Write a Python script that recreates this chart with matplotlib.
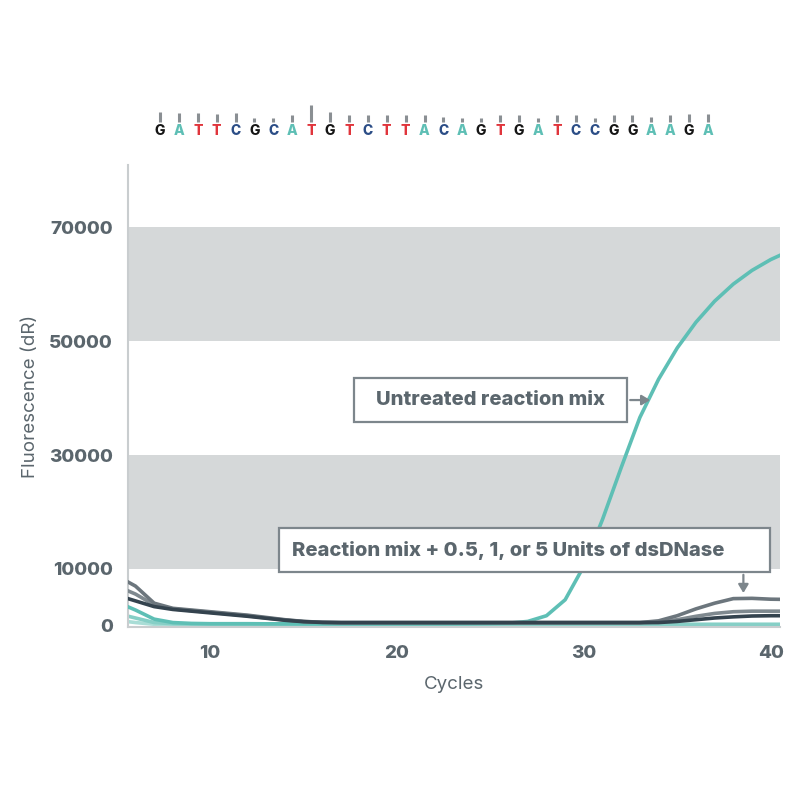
import matplotlib
matplotlib.use("Agg")
import matplotlib.pyplot as plt
from matplotlib.patches import Rectangle

plt.rcParams["font.family"] = ["Inter", "DejaVu Sans"]

# qPCR amplification, one value per cycle
cycles = list(range(5, 42))

untreated = [4200, 2800, 1200, 600, 450, 400, 400, 400, 380, 380, 370, 370, 370,
             370, 370, 380, 380, 390, 400, 420, 450, 500, 800, 1800, 4600, 10500,
             18700, 27800, 36600, 43300, 48800, 53300, 57000, 60000, 62400, 64300, 65800]
ntc_a = [2200, 1400, 600, 400, 350, 330, 320, 310, 300, 300, 300, 300, 300, 300,
         300, 300, 300, 300, 300, 300, 300, 300, 300, 300, 300, 300, 300, 300,
         300, 300, 300, 300, 300, 300, 300, 300, 300]
ntc_b = [1000, 600, 300, 220, 200, 200, 200, 200, 200, 200, 200, 200, 200, 200,
         200, 200, 200, 200, 200, 200, 200, 200, 200, 200, 200, 200, 200, 200,
         200, 200, 200, 200, 200, 200, 200, 200, 200]
dnase_05 = [8800, 7000, 4000, 3100, 2800, 2500, 2200, 1900, 1500, 1100, 800, 650,
            600, 600, 600, 600, 600, 600, 600, 600, 600, 600, 600, 600, 600, 600,
            600, 600, 600, 900, 1800, 3000, 4000, 4800, 4850, 4700, 4650]
dnase_1 = [7000, 5600, 3700, 3000, 2700, 2400, 2100, 1800, 1400, 1050, 780, 640,
           600, 600, 600, 600, 600, 600, 600, 600, 600, 600, 600, 600, 600, 600,
           600, 600, 600, 700, 1100, 1700, 2200, 2500, 2600, 2600, 2600]
dnase_5 = [5400, 4400, 3400, 2900, 2600, 2300, 2000, 1700, 1350, 1000, 750, 620,
           580, 580, 580, 580, 580, 580, 580, 580, 580, 580, 580, 580, 580, 580,
           580, 580, 580, 600, 800, 1100, 1400, 1600, 1750, 1800, 1800]

ytick_vals = [0, 10000, 30000, 50000, 70000]
bands = [(10000, 30000), (50000, 70000)]

sequence = "GATTCGCATGTCTTACAGTGATCCGGAAGA"
peak_heights = [10, 9.5, 9.5, 8.5, 9.5, 3.8, 3.8, 7.5, 17, 10, 7.5, 7.5, 6.8, 6.8,
                7.5, 5, 3.8, 4.5, 7.5, 7.5, 3.8, 7.5, 7.5, 3.8, 7.5, 7.5, 5, 7.5, 8.5, 8.5]
base_colors = {"G": "#151515", "A": "#5ebfb5", "T": "#e0353c", "C": "#2b4d86"}

TEXT = "#5b666d"
BOX = "#7d868c"
HEAVY = 800

fig = plt.figure(figsize=(8, 8), dpi=100)
ax = fig.add_axes([0.16, 1 - 627 / 800, 652 / 800, 462 / 800])

for lo, hi in bands:
    ax.axhspan(lo, hi, color="#d5d8d9", lw=0, zorder=0)

line_kw = dict(lw=2.6, solid_joinstyle="round", solid_capstyle="round")
ax.plot(cycles, ntc_b, color="#a9ddd6", zorder=2, **line_kw)
ax.plot(cycles, ntc_a, color="#86cfc6", zorder=2, **line_kw)
ax.plot(cycles, untreated, color="#5ebfb5", zorder=3, **line_kw)
ax.plot(cycles, dnase_1, color="#7f898f", zorder=4, **line_kw)
ax.plot(cycles, dnase_05, color="#6c767d", zorder=4, **line_kw)
ax.plot(cycles, dnase_5, color="#34434e", zorder=5, **line_kw)

ax.set_xlim(5.6, 40.5)
ax.set_ylim(-180, 80900)
ax.set_xticks([10, 20, 30, 40])
ax.set_yticks(ytick_vals)
ax.tick_params(length=0, labelsize=13.5, labelcolor=TEXT)
ax.tick_params(axis="y", pad=11)
ax.tick_params(axis="x", pad=13)
for lab in ax.get_xticklabels() + ax.get_yticklabels():
    lab.set_fontweight(HEAVY)
for s in ("top", "right"):
    ax.spines[s].set_visible(False)
for s in ("left", "bottom"):
    ax.spines[s].set_color("#c9cdcf")
    ax.spines[s].set_linewidth(1.5)

ax.set_xlabel("Cycles", fontsize=13.5, color=TEXT, labelpad=10)
ax.set_ylabel("Fluorescence (dR)", fontsize=13.5, color=TEXT, labelpad=7)

# annotation boxes
ax.add_patch(Rectangle((17.71, 35790), 32.33 - 17.71, 43510 - 35790, facecolor="white",
                       edgecolor=BOX, lw=1.6, zorder=6))
ax.text((17.71 + 32.33) / 2, 39650, "Untreated reaction mix", ha="center", va="center",
        fontsize=14.5, fontweight=HEAVY, color=TEXT, zorder=7)
ax.annotate("", xy=(33.7, 39650), xytext=(32.33, 39650), zorder=7,
            arrowprops=dict(arrowstyle="-|>,head_length=0.5,head_width=0.3", color=BOX, lw=1.6))

ax.add_patch(Rectangle((13.69, 9470), 39.99 - 13.69, 17190 - 9470, facecolor="white",
                       edgecolor=BOX, lw=1.6, zorder=6))
ax.text(13.69 + 0.7, 13330, "Reaction mix + 0.5, 1, or 5 Units of dsDNase",
        ha="left", va="center", fontsize=14.5, fontweight=HEAVY, color=TEXT, zorder=7)
ax.annotate("", xy=(38.54, 5300), xytext=(38.54, 9470), zorder=7,
            arrowprops=dict(arrowstyle="-|>,head_length=0.5,head_width=0.3", color=BOX, lw=1.6))

# sequence trace header
sax = fig.add_axes([150.5 / 800, 1 - 140 / 800, 567 / 800, 40 / 800])
sax.set_xlim(-0.5, len(sequence) - 0.5)
sax.set_ylim(0, 40)
sax.axis("off")
for i, (base, h) in enumerate(zip(sequence, peak_heights)):
    sax.vlines(i, 18, 18 + h, color="#8a8f93", lw=2.2)
    sax.text(i, 9, base, ha="center", va="center", fontsize=10, fontweight=HEAVY,
             color=base_colors[base])

fig.savefig("out.png", dpi=100)
